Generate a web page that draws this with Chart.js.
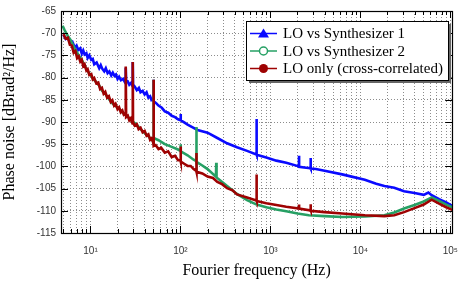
<!DOCTYPE html>
<html>
<head>
<meta charset="utf-8">
<script src="https://cdn.jsdelivr.net/npm/chart.js@4.4.1/dist/chart.umd.min.js"></script>
<style>
  html, body { margin: 0; padding: 0; background: #fff; }
  #wrap { width: 470px; height: 283px; }
</style>
</head>
<body>
<div id="wrap"><canvas id="noiseChart" width="470" height="283"></canvas></div>
<script>
// Series names (legend order)
const seriesNames = ["LO vs Synthesizer 1", "LO vs Synthesizer 2", "LO only (cross-correlated)"];

// LO vs Synthesizer 1 (blue)
const freqBlue = [5.0, 5.3, 5.6, 6.0, 6.3, 6.7, 7.0, 7.3, 7.7, 8.0, 8.3, 8.6, 9.0, 9.3, 9.7, 10.2, 10.6, 11.0, 11.7, 12.5, 13.0, 13.5,
  14.2, 14.8, 15.5, 16.2, 17, 17.7, 18.5, 19.2, 20, 20.8, 21.8, 23, 24.4, 24.65, 24.9, 26, 27, 28.2, 29.3, 29.5, 29.7, 31, 32.7,
  34.5, 36, 38, 40, 42, 44, 46, 47.6, 49.8, 50.2, 50.6, 54, 57, 62, 67, 73, 80, 87, 94, 100, 100.5, 101, 110, 120, 140, 155, 200,
  257, 330, 425, 550, 700, 702, 704, 900, 1164, 1500, 2075, 2080, 2085, 2500, 2790, 2800, 2810, 3200, 4000, 6280, 8000, 11200,
  15000, 18500, 23800, 30600, 40000, 50700, 57000, 62000, 75000, 90000, 105000];
const phaseBlue = [-70.3, -71.3, -71.0, -72.4, -72.0, -73.3, -72.8, -73.8, -73.4, -74.6, -73.9, -74.8, -74.5, -75.6, -75.0, -76.0, -75.8, -77.0, -76.6, -77.9, -77.2, -78.0,
  -78.6, -77.9, -79.0, -78.6, -79.5, -78.9, -79.6, -79.3, -80.3, -79.8, -80.6, -80.3, -81.2, -77.8, -81.0, -80.9, -81.6, -81.2, -81.9, -76.5, -81.6, -82.0, -82.8,
  -82.3, -83.3, -83.0, -83.8, -83.3, -84.5, -84.2, -85.0, -84.7, -80.5, -85.3, -85.8, -86.3, -86.8, -87.6, -87.9, -88.6, -88.9, -89.4, -89.6, -88.2, -89.6, -90.1, -90.6, -91.3, -91.8, -92.4,
  -93.6, -94.8, -95.7, -96.5, -97.3, -89.3, -97.4, -98.0, -98.7, -99.2, -100.0, -97.6, -100.1, -100.3, -100.4, -98.1, -100.5, -100.6, -101.0, -101.8, -102.3, -103.0,
  -103.9, -104.4, -104.8, -105.6, -106.0, -106.4, -105.9, -106.5, -107.4, -108.1, -108.9];

// LO vs Synthesizer 2 (green)
const freqGreen = [4.9, 5.2, 5.6, 6.0, 6.7, 7.3, 8.0, 8.6, 9.3, 10.2, 11.0, 12.5, 13.5, 14.5, 16, 17.5, 19, 20.8, 22.5, 26, 29, 32.7, 36, 40,
  44, 47.6, 49.8, 50.2, 50.6, 57, 67, 80, 94, 100, 100.5, 101, 120, 140, 150, 150.5, 151, 175, 200, 248, 250, 252, 330, 425, 550, 703, 900, 1164,
  1500, 2000, 2670, 4000, 6280, 11200, 18500, 23800, 30600, 40000, 50700, 62000, 75000, 90000, 105000];
const phaseGreen = [-68.3, -69.5, -70.6, -71.5, -73.5, -74.8, -76.0, -77.3, -78.5, -79.7, -80.5, -81.8, -83.0, -83.6, -84.8, -85.8, -86.4, -87.0, -87.8, -88.8, -89.8, -90.6, -91.6, -92.5,
  -93.2, -94.0, -94.1, -80.5, -93.6, -94.1, -95.0, -95.6, -96.2, -96.5, -95.0, -96.6, -97.5, -98.5, -98.8, -91.1, -99.0, -99.8, -100.6, -102.3, -99.2, -102.5, -104.4, -106.2, -107.6, -108.6, -109.2, -109.7,
  -110.1, -110.6, -111.0, -111.2, -111.4, -111.3, -111.0, -110.4, -109.5, -108.7, -107.9, -107.0, -107.8, -108.6, -109.2];

// LO only, cross-correlated (dark red)
const freqRed = [5.0, 5.3, 5.6, 5.9, 6.2, 6.5, 6.8, 7.1, 7.4, 7.7, 8.0, 8.3, 8.6, 9.0, 9.3, 9.7, 10.2, 10.6, 11.0, 11.6, 12.2, 12.8,
  13.4, 14.0, 14.6, 15.3, 16, 16.8, 17.5, 18.3, 19, 20, 20.8, 21.7, 22.6, 23.5, 24.4, 24.65, 24.9, 26, 27, 28, 29.3, 29.5, 29.7,
  31, 32.7, 34.3, 36, 38, 40, 42, 44, 46, 47.6, 49.8, 50.2, 50.6, 53, 57, 61, 67, 73, 80, 87, 94, 100, 100.5, 101, 110, 120, 130,
  140, 150, 150.5, 151, 175, 200, 230, 257, 290, 330, 380, 425, 550, 700, 702, 704, 900, 1164, 1500, 2075, 2080, 2085, 2790, 2800,
  2810, 4000, 6280, 11200, 18500, 23800, 30600, 40000, 50700, 62000, 75000, 90000, 105000];
const phaseRed = [-70.2, -71.2, -71.0, -72.6, -72.8, -74.4, -74.0, -75.6, -75.2, -76.4, -76.0, -77.4, -77.0, -78.4, -78.1, -79.4, -79.2, -80.4, -80.1, -81.3, -81.1, -82.6,
  -82.3, -83.6, -83.2, -84.5, -84.2, -85.5, -85.1, -86.3, -85.9, -87.1, -86.7, -87.8, -87.4, -88.4, -88.2, -77.5, -88.9, -88.6, -89.6, -89.2, -90.3, -76.5, -90.0,
  -90.8, -90.5, -91.6, -91.3, -92.3, -92.0, -93.1, -92.8, -94.0, -93.7, -94.6, -80.5, -95.4, -95.2, -96.1, -95.8, -96.9, -96.6, -97.9, -97.6, -98.6, -98.6, -95.5, -98.9, -99.4, -99.9, -99.9,
  -100.6, -101.0, -97.0, -101.2, -101.6, -102.3, -102.6, -103.5, -104.0, -104.9, -105.4, -106.3, -107.0, -107.7, -101.8, -107.8, -108.3, -108.7, -109.1, -109.5, -108.6, -109.5, -109.9, -108.5,
  -110.0, -110.3, -110.6, -111.0, -111.2, -111.0, -110.3, -109.4, -108.6, -107.5, -108.4, -109.2, -109.8];

// Axis ticks
const xTickValues = [5, 6, 7, 8, 9, 10, 20, 30, 40, 50, 60, 70, 80, 90, 100, 200, 300, 400, 500, 600, 700, 800, 900,
  1000, 2000, 3000, 4000, 5000, 6000, 7000, 8000, 9000, 10000, 20000, 30000, 40000, 50000, 60000, 70000, 80000, 90000, 100000];
const xMajorTicks = [10, 100, 1000, 10000, 100000];
const xTickLabels = ["10\u00b9", "10\u00b2", "10\u00b3", "10\u2074", "10\u2075"];
const yTickValues = [-115, -110, -105, -100, -95, -90, -85, -80, -75, -70, -65];

const colors = ["#0a0aff", "#26a064", "#9e0202"];

function toPoints(xs, ys) {
  return xs.map((x, i) => ({ x: x, y: ys[i] }));
}

// Frame with inward ticks, like the original plot
const framePlugin = {
  id: "frame",
  afterDraw(chart) {
    const ctx = chart.ctx;
    const a = chart.chartArea;
    const xs = chart.scales.x;
    const ys = chart.scales.y;
    ctx.save();
    ctx.strokeStyle = "#000";
    ctx.lineWidth = 1;
    ctx.beginPath();
    xs.ticks.forEach(t => {
      const px = Math.round(xs.getPixelForValue(t.value)) + 0.5;
      const len = xMajorTicks.includes(t.value) ? 7 : 4;
      ctx.moveTo(px, a.bottom); ctx.lineTo(px, a.bottom - len);
      ctx.moveTo(px, a.top); ctx.lineTo(px, a.top + len);
    });
    ys.ticks.forEach(t => {
      const py = Math.round(ys.getPixelForValue(t.value)) + 0.5;
      ctx.moveTo(a.left, py); ctx.lineTo(a.left + 7, py);
      ctx.moveTo(a.right, py); ctx.lineTo(a.right - 7, py);
    });
    ctx.stroke();
    ctx.lineWidth = 1.2;
    ctx.strokeRect(Math.round(a.left) + 0.5, Math.round(a.top) + 0.5, Math.round(a.right - a.left), Math.round(a.bottom - a.top));
    ctx.restore();
  }
};

// Boxed legend with a drop shadow
const legendPlugin = {
  id: "boxLegend",
  afterDraw(chart) {
    const ctx = chart.ctx;
    const left = 246, top = 21, w = 202, h = 59;
    ctx.save();
    ctx.fillStyle = "#666";
    ctx.fillRect(left + 3, top + 3, w, h);
    ctx.fillStyle = "#fff";
    ctx.fillRect(left, top, w, h);
    ctx.strokeStyle = "#000";
    ctx.lineWidth = 1;
    ctx.strokeRect(left + 0.5, top + 0.5, w, h);
    ctx.font = "15px 'Liberation Serif', 'Times New Roman', serif";
    ctx.textBaseline = "middle";
    seriesNames.forEach((name, i) => {
      const y = top + 12.5 + i * 17.5;
      ctx.strokeStyle = colors[i];
      ctx.lineWidth = 1.5;
      ctx.beginPath();
      ctx.moveTo(250, y); ctx.lineTo(277, y);
      ctx.stroke();
      ctx.beginPath();
      if (i === 0) {
        ctx.fillStyle = colors[i];
        ctx.moveTo(263.5, y - 5); ctx.lineTo(269, y + 4); ctx.lineTo(258, y + 4); ctx.closePath();
        ctx.fill();
      } else if (i === 1) {
        ctx.fillStyle = "#fff";
        ctx.arc(263.5, y, 4, 0, Math.PI * 2);
        ctx.fill(); ctx.stroke();
      } else {
        ctx.fillStyle = colors[i];
        ctx.arc(263.5, y, 4.5, 0, Math.PI * 2);
        ctx.fill();
      }
      ctx.fillStyle = "#000";
      ctx.fillText(name, 283, y + 1);
    });
    ctx.restore();
  }
};

new Chart(document.getElementById("noiseChart"), {
  type: "line",
  data: {
    datasets: [
      { label: seriesNames[0], data: toPoints(freqBlue, phaseBlue), borderColor: colors[0], order: 2 },
      { label: seriesNames[1], data: toPoints(freqGreen, phaseGreen), borderColor: colors[1], order: 1 },
      { label: seriesNames[2], data: toPoints(freqRed, phaseRed), borderColor: colors[2], order: 0 }
    ]
  },
  options: {
    responsive: false,
    animation: false,
    devicePixelRatio: 1,
    layout: { padding: { top: 6, right: 11, left: 0, bottom: 0 } },
    elements: {
      point: { radius: 0 },
      line: { borderWidth: 2.6, tension: 0, borderJoinStyle: "miter" }
    },
    plugins: { legend: { display: false }, tooltip: { enabled: false } },
    scales: {
      x: {
        type: "logarithmic",
        min: 4.7,
        max: 105000,
        afterFit: s => { s.height = 50; },
        afterBuildTicks: s => { s.ticks = xTickValues.map(v => ({ value: v })); },
        grid: { color: "#8c8c8c", lineWidth: 1, drawTicks: false },
        border: { display: false, dash: [1, 2] },
        ticks: {
          autoSkip: false, maxRotation: 0, padding: 12,
          color: "#333", font: { family: "'Liberation Sans', Arial, sans-serif", size: 10 },
          callback: v => {
            const i = xMajorTicks.indexOf(v);
            return i >= 0 ? xTickLabels[i] : "";
          }
        },
        title: {
          display: true, text: "Fourier frequency (Hz)", color: "#000",
          font: { family: "'Liberation Serif', 'Times New Roman', serif", size: 16 },
          padding: { top: 0, bottom: 3 }
        }
      },
      y: {
        min: -115,
        max: -65,
        afterFit: s => { s.width = 61; },
        afterBuildTicks: s => { s.ticks = yTickValues.map(v => ({ value: v })); },
        grid: { color: "#8c8c8c", lineWidth: 1, drawTicks: false },
        border: { display: false, dash: [1, 2] },
        ticks: {
          padding: 5, color: "#333",
          font: { family: "'Liberation Sans', Arial, sans-serif", size: 10 },
          callback: v => String(v)
        },
        title: {
          display: true, text: "Phase noise [dBrad\u00b2/Hz]", color: "#000",
          font: { family: "'Liberation Serif', 'Times New Roman', serif", size: 16 },
          padding: { top: 0, bottom: 0 }
        }
      }
    }
  },
  plugins: [framePlugin, legendPlugin]
});
</script>
</body>
</html>
